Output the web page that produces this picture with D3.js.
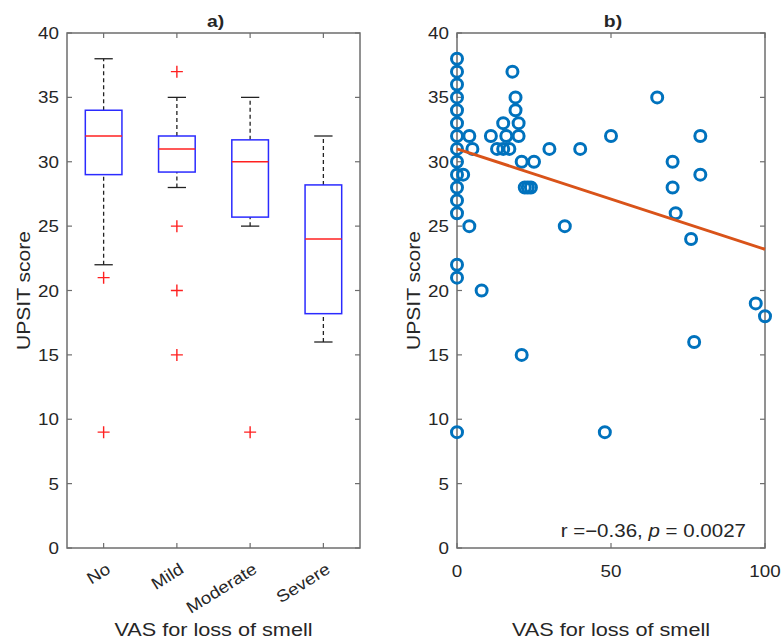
<!DOCTYPE html>
<html>
<head>
<meta charset="utf-8">
<script src="https://cdn.jsdelivr.net/npm/d3@7"></script>
<style>
  body { margin: 0; background: #fff; }
  text { font-family: "Liberation Sans", Arial, sans-serif; fill: #262626; }
</style>
</head>
<body>
<svg id="chart" width="782" height="642"></svg>
<script>
// panel a) box plot summaries per category
var categories = ["No", "Mild", "Moderate", "Severe"];
var whiskLow  = [22, 28, 25, 16];
var q1        = [29, 29.2, 25.7, 18.2];
var medians   = [32, 31, 30, 24];
var q3        = [34, 32, 31.7, 28.2];
var whiskHigh = [38, 35, 35, 32];
var outliers  = [[21, 9], [37, 25, 20, 15], [9], []];

// panel b) scatter of VAS vs UPSIT
var vasX = [0, 0, 0, 0, 0, 0, 0, 0, 0, 0, 0, 0, 0, 0, 0, 0,
            2, 4, 5, 4, 8, 11, 13, 15, 17, 15, 16, 18, 19, 19, 20, 20,
            21, 25, 22, 23, 24, 21, 30, 35, 40, 48, 50,
            65, 79, 70, 79, 70, 71, 76, 77, 97, 100];
var upsitY = [38, 37, 36, 35, 34, 33, 32, 31, 30, 29, 28, 27, 26, 22, 21, 9,
              29, 32, 31, 25, 20, 32, 31, 31, 31, 33, 32, 37, 35, 34, 33, 32,
              30, 30, 28, 28, 28, 15, 31, 25, 31, 9, 32,
              35, 32, 30, 29, 28, 26, 24, 16, 19, 18];
var fitIntercept = 31.0, fitSlope = -0.078;
var yTicks = [0, 5, 10, 15, 20, 25, 30, 35, 40];
var xTicksB = [0, 50, 100];

var svg = d3.select("#chart");
var axisColor = "#6e6e6e";
var stretch = 1.14; // reference text is a bit wide

var plotTop = 33, plotBottom = 548;
var y = d3.scaleLinear().domain([0, 40]).range([plotBottom, plotTop]);

// text placed at (x,y), optionally rotated, widened along its baseline
function txt(g, x, yy, s, size, anchor, rot) {
    return g.append("text")
        .attr("transform", "translate(" + x + "," + yy + ") rotate(" + (rot || 0) + ") scale(" + stretch + ",1)")
        .attr("text-anchor", anchor || "middle")
        .attr("font-size", size)
        .text(s);
}

function frame(g, x0, x1, xTickPos, titleText, yLabelX) {
    g.append("rect")
        .attr("x", x0).attr("y", plotTop)
        .attr("width", x1 - x0).attr("height", plotBottom - plotTop)
        .attr("fill", "none").attr("stroke", axisColor).attr("stroke-width", 1.5);
    // y ticks on both sides, pointing in
    yTicks.forEach(function (t) {
        var yy = y(t);
        g.append("line").attr("x1", x0).attr("x2", x0 + 5).attr("y1", yy).attr("y2", yy)
            .attr("stroke", axisColor).attr("stroke-width", 1.2);
        g.append("line").attr("x1", x1).attr("x2", x1 - 5).attr("y1", yy).attr("y2", yy)
            .attr("stroke", axisColor).attr("stroke-width", 1.2);
        txt(g, x0 - 8, yy + 6, t, 16.5, "end");
    });
    xTickPos.forEach(function (xx) {
        g.append("line").attr("x1", xx).attr("x2", xx).attr("y1", plotBottom).attr("y2", plotBottom - 5)
            .attr("stroke", axisColor).attr("stroke-width", 1.2);
        g.append("line").attr("x1", xx).attr("x2", xx).attr("y1", plotTop).attr("y2", plotTop + 5)
            .attr("stroke", axisColor).attr("stroke-width", 1.2);
    });
    txt(g, (x0 + x1) / 2 + 2, 27, titleText, 17, "middle").attr("font-weight", "bold");
    txt(g, yLabelX, (plotTop + plotBottom) / 2, "UPSIT score", 18.5, "middle", -90);
    txt(g, (x0 + x1) / 2, 636, "VAS for loss of smell", 19, "middle");
}

// ---------- panel a ----------
var xa = d3.scaleBand().domain(categories).range([67, 360]);
var ga = svg.append("g");
frame(ga, 67, 360, categories.map(function (c) { return xa(c) + xa.bandwidth() / 2; }), "a)", 30);

categories.forEach(function (c, i) {
    var cx = xa(c) + xa.bandwidth() / 2;
    var bw = xa.bandwidth() / 2;
    var capW = bw / 2;
    // whiskers
    [[q3[i], whiskHigh[i]], [whiskLow[i], q1[i]]].forEach(function (w) {
        ga.append("line").attr("x1", cx).attr("x2", cx)
            .attr("y1", y(w[0])).attr("y2", y(w[1]))
            .attr("stroke", "#222").attr("stroke-width", 1.3).attr("stroke-dasharray", "4,3");
    });
    [whiskHigh[i], whiskLow[i]].forEach(function (v) {
        ga.append("line").attr("x1", cx - capW / 2).attr("x2", cx + capW / 2)
            .attr("y1", y(v)).attr("y2", y(v)).attr("stroke", "#222").attr("stroke-width", 1.3);
    });
    ga.append("rect").attr("x", cx - bw / 2).attr("y", y(q3[i]))
        .attr("width", bw).attr("height", y(q1[i]) - y(q3[i]))
        .attr("fill", "none").attr("stroke", "#2b2bff").attr("stroke-width", 1.5);
    ga.append("line").attr("x1", cx - bw / 2).attr("x2", cx + bw / 2)
        .attr("y1", y(medians[i])).attr("y2", y(medians[i]))
        .attr("stroke", "#ff2020").attr("stroke-width", 1.5);
    outliers[i].forEach(function (v) {
        var s = 6;
        ga.append("path")
            .attr("d", "M" + (cx - s) + "," + y(v) + "H" + (cx + s) + "M" + cx + "," + (y(v) - s) + "V" + (y(v) + s))
            .attr("stroke", "#ff2020").attr("stroke-width", 1.4);
    });
    txt(ga, cx + 8, 572, c, 16.5, "end", -32);
});

// ---------- panel b ----------
var xb = d3.scaleLinear().domain([0, 100]).range([457, 765]);
var gb = svg.append("g");
frame(gb, 457, 765, xTicksB.map(xb), "b)", 420);
xTicksB.forEach(function (t) {
    txt(gb, xb(t), 577, t, 16.5, "middle");
});

gb.selectAll("circle").data(vasX).enter().append("circle")
    .attr("cx", function (d) { return xb(d); })
    .attr("cy", function (d, i) { return y(upsitY[i]); })
    .attr("r", 5.5)
    .attr("fill", "none").attr("stroke", "#0072BD").attr("stroke-width", 3);

gb.append("line")
    .attr("x1", xb(0)).attr("y1", y(fitIntercept))
    .attr("x2", xb(100)).attr("y2", y(fitIntercept + fitSlope * 100))
    .attr("stroke", "#D95319").attr("stroke-width", 3);

var ann = txt(gb, 746, 537, "", 18, "end");
ann.append("tspan").text("r =\u22120.36, ");
ann.append("tspan").attr("font-style", "italic").text("p");
ann.append("tspan").text(" = 0.0027");
</script>
</body>
</html>
